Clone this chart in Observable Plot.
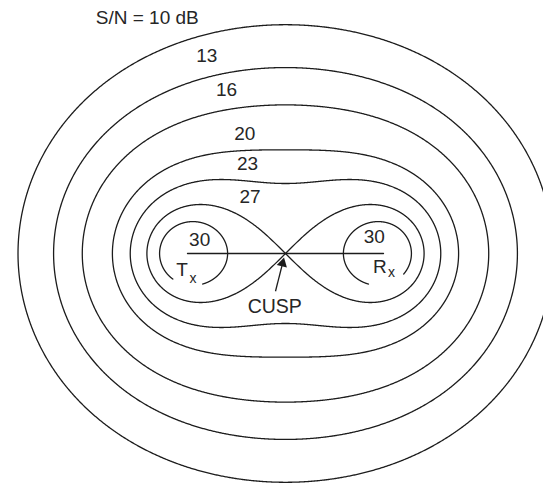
<!DOCTYPE html>
<html>
<head>
<meta charset="utf-8">
<script src="https://cdn.jsdelivr.net/npm/d3@7"></script>
<script src="https://cdn.jsdelivr.net/npm/@observablehq/plot@0.6"></script>
<style>
  body { margin: 0; background: #fff; }
  #chart svg { display: block; }
</style>
</head>
<body>
<div id="chart"></div>
<script>
// S/N contour levels (dB) and the product R_T·R_R (in units of half the baseline, squared)
const levels   = [10, 13, 16, 20, 23, 27, 30];
const products = [6.45, 4.60, 3.30, 2.12, 1.51, 1.0, 0.651];

// Contour labels (data units; baseline half-length = 1)
const levelLabels = ["S/N = 10 dB", "13", "16", "20", "23", "27", "30", "30"];
const labelX = [-1.411, -0.803, -0.602, -0.416, -0.388, -0.362, -0.876, 0.906];
const labelY = [2.405, 2.015, 1.674, 1.224, 0.916, 0.577, 0.143, 0.173];

// Transmitter / receiver
const stations = ["T", "R"];
const stationX = [-1, 1];
const stationLabelX = [-1.056, 0.964];
const stationLabelY = [-0.168, -0.138];
const subLabelX = [-0.944, 1.082];
const subLabelY = [-0.255, -0.194];
// gaps in the 30 dB loops (degrees around loop centre) where the T/R labels sit
const loopGapStart = [-129, -106];
const loopGapEnd   = [-73.5, -38];

// Cusp annotation
const cuspText = "CUSP";
const cuspLabel = {x: -0.110, y: -0.546};
const cuspArrowTail = {x: -0.102, y: -0.385};
const cuspArrowHead = {x: -0.030, y: -0.100};

// ---- build the ovals of Cassini |z^2 - 1| = p ----
const pts = [];
const N = 1440;
products.forEach((p, i) => {
  const lvl = levels[i];
  if (p > 1.0001) {
    for (let k = 0; k <= N; k++) {
      const t = 2 * Math.PI * k / N;
      const c2 = Math.cos(2 * t);
      const r = Math.sqrt(c2 + Math.sqrt(c2 * c2 + p * p - 1));
      pts.push({id: "L" + lvl, x: r * Math.cos(t), y: r * Math.sin(t)});
    }
  } else if (Math.abs(p - 1) < 1e-4) {
    // lemniscate: two lobes meeting at the cusp
    [0, Math.PI].forEach((off, j) => {
      for (let k = 0; k <= N / 2; k++) {
        const t = -Math.PI / 4 + (Math.PI / 2) * k / (N / 2);
        const r = Math.sqrt(Math.max(0, 2 * Math.cos(2 * t)));
        pts.push({id: "L" + lvl + "_" + j, x: r * Math.cos(t + off), y: r * Math.sin(t + off)});
      }
    });
  } else {
    // two separate loops around T and R, open where the labels sit
    [-1, 1].forEach((sgn, j) => {
      const cx = sgn * (Math.sqrt(1 + p) + Math.sqrt(1 - p)) / 2;
      const loop = [];
      for (let k = 0; k < N; k++) {
        const phi = 2 * Math.PI * k / N;
        const u = 1 + p * Math.cos(phi), v = p * Math.sin(phi);
        const m = Math.hypot(u, v);
        const re = Math.sqrt((m + u) / 2), im = Math.sign(v) * Math.sqrt((m - u) / 2);
        const x = sgn * re, y = sgn * im;
        const a = Math.atan2(y, x - cx) * 180 / Math.PI;
        const keep = !(a > loopGapStart[j] && a < loopGapEnd[j]);
        loop.push({x, y, keep});
      }
      let s = loop.findIndex((q, k) => q.keep && !loop[(k - 1 + N) % N].keep);
      for (let k = 0; k < N; k++) {
        const q = loop[(s + k) % N];
        if (!q.keep) break;
        pts.push({id: "L" + lvl + "_" + j, x: q.x, y: q.y});
      }
    });
  }
});

const labels = levelLabels.map((t, i) => ({t, x: labelX[i], y: labelY[i]}));
const stLabels = stations.map((t, i) => ({t, x: stationLabelX[i], y: stationLabelY[i]}));
const subLabels = stations.map((t, i) => ({t: "x", x: subLabelX[i], y: subLabelY[i]}));
const baseline = stations.map((t, i) => ({x: stationX[i], y: 0}));

const W = 543, H = 489;
const unit = 98, cxPx = 285, cyPx = 253;
const font = "'Liberation Sans', Arial, Helvetica, sans-serif";
const ink = "#1c1c1c", textInk = "#262626";

const angle = Math.atan2(cuspArrowHead.x - cuspArrowTail.x, cuspArrowHead.y - cuspArrowTail.y) * 180 / Math.PI;

const chart = Plot.plot({
  width: W, height: H,
  margin: 0,
  style: {background: "#fff", fontFamily: font, overflow: "hidden"},
  x: {domain: [-cxPx / unit, (W - cxPx) / unit], axis: null},
  y: {domain: [-(H - cyPx) / unit, cyPx / unit], axis: null},
  marks: [
    Plot.line(pts, {x: "x", y: "y", z: "id", stroke: ink, strokeWidth: 1.3}),
    Plot.line(baseline, {x: "x", y: "y", stroke: ink, strokeWidth: 1.3}),
    Plot.link([cuspArrowTail], {x1: "x", y1: "y", x2: () => cuspArrowHead.x, y2: () => cuspArrowHead.y, stroke: ink, strokeWidth: 1.3}),
    Plot.dot([cuspArrowHead], {x: "x", y: "y", symbol: "triangle2", r: 5, fill: ink, stroke: "none", rotate: angle}),
    Plot.text(labels, {x: "x", y: "y", text: "t", fontSize: 19, fill: textInk, fontFamily: font}),
    Plot.text(stLabels, {x: "x", y: "y", text: "t", fontSize: 19, fill: textInk, fontFamily: font}),
    Plot.text(subLabels, {x: "x", y: "y", text: "t", fontSize: 14, fill: textInk, fontFamily: font}),
    Plot.text([cuspLabel], {x: "x", y: "y", text: () => cuspText, fontSize: 19.5, fill: textInk, fontFamily: font})
  ]
});
document.getElementById("chart").appendChild(chart);
</script>
</body>
</html>
